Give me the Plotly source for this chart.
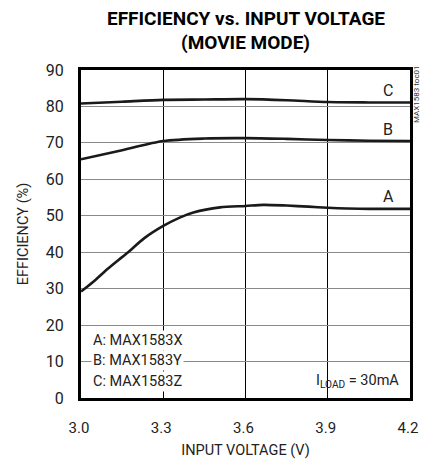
import plotly.graph_objects as go

# Data
vin_a = [3.0, 3.045, 3.10, 3.167, 3.23, 3.30, 3.36, 3.41, 3.507, 3.60, 3.665, 3.75, 3.83, 3.90, 3.97, 4.05, 4.2]
eff_a = [29.2, 31.9, 35.6, 39.7, 43.8, 47.2, 49.5, 50.9, 52.3, 52.7, 53.0, 52.8, 52.5, 52.2, 52.0, 51.9, 51.9]

vin_b = [3.0, 3.15, 3.30, 3.45, 3.60, 3.75, 3.90, 4.05, 4.2]
eff_b = [65.5, 68.0, 70.5, 71.2, 71.3, 71.1, 70.8, 70.6, 70.5]

vin_c = [3.0, 3.15, 3.30, 3.45, 3.60, 3.75, 3.90, 4.05, 4.2]
eff_c = [80.8, 81.3, 81.8, 81.9, 82.0, 81.7, 81.2, 81.1, 81.1]

x_ticks = [3.0, 3.3, 3.6, 3.9, 4.2]
x_tick_labels = ["3.0", "3.3", "3.6", "3.9", "4.2"]
y_ticks = [0, 10, 20, 30, 40, 50, 60, 70, 80, 90]

curve_labels = ["A", "B", "C"]
legend_lines = ["A: MAX1583X", "B: MAX1583Y", "C: MAX1583Z"]

FONT = "Roboto, Liberation Sans, sans-serif"

fig = go.Figure()
for xs, ys in [(vin_a, eff_a), (vin_b, eff_b), (vin_c, eff_c)]:
    fig.add_trace(go.Scatter(x=xs, y=ys, mode="lines",
                             line=dict(color="#1a1a1a", width=2.6, shape="spline", smoothing=0.8),
                             showlegend=False, hoverinfo="skip"))

# curve labels
for lab, yv in zip(curve_labels, [55.2, 73.8, 84.5]):
    fig.add_annotation(x=4.12, y=yv, xref="x", yref="y", text=lab, showarrow=False,
                       font=dict(family=FONT, size=16, color="#222"))

# legend text block
for txt, yv in zip(legend_lines, [15.9, 10.2, 4.4]):
    fig.add_annotation(x=0.03, y=yv, xref="paper", yref="y", text=txt, showarrow=False,
                       xanchor="left", yanchor="middle", bgcolor="white", borderpad=1,
                       font=dict(family=FONT, size=14.5, color="#222"))

fig.add_annotation(x=0.972, y=4.6, xref="paper", yref="y",
                   text="I<sub>LOAD</sub> = 30mA", showarrow=False,
                   xanchor="right", yanchor="middle",
                   font=dict(family=FONT, size=14.5, color="#222"))

fig.add_annotation(x=1.0, y=1.02, xref="paper", yref="paper", text="MAX1583 toc01",
                   showarrow=False, textangle=-90, xanchor="left", yanchor="top", xshift=0,
                   font=dict(family=FONT, size=8, color="#333"))

# title as annotations
fig.add_annotation(x=0.5, y=1.1585, xref="paper", yref="paper",
                   text="<b>EFFICIENCY vs. INPUT VOLTAGE</b>", showarrow=False,
                   xanchor="center", yanchor="middle",
                   font=dict(family=FONT, size=19, color="black"))
fig.add_annotation(x=0.5, y=1.085, xref="paper", yref="paper",
                   text="<b>(MOVIE MODE)</b>", showarrow=False,
                   xanchor="center", yanchor="middle",
                   font=dict(family=FONT, size=19, color="black"))

fig.update_layout(
    width=421, height=459,
    margin=dict(l=81, r=11, t=70, b=61),
    paper_bgcolor="white", plot_bgcolor="white",
    font=dict(family=FONT, color="#222"),
)
fig.update_xaxes(range=[3.0, 4.2], tickvals=x_ticks, ticktext=x_tick_labels,
                 showgrid=True, gridcolor="black", gridwidth=1,
                 showline=True, mirror=True, linecolor="black", linewidth=3,
                 ticks="", ticklabelstandoff=14, ticklabeloverflow="allow", ticklabelshift=-2,
                 tickfont=dict(family=FONT, size=15, color="#222"),
                 title=dict(text="INPUT VOLTAGE (V)", font=dict(family=FONT, size=14.5, color="#222"), standoff=10),
                 zeroline=False, automargin=False)
fig.update_yaxes(range=[0, 90], tickvals=y_ticks,
                 showgrid=True, gridcolor="#8a8a8a", gridwidth=1.3,
                 showline=True, mirror=True, linecolor="black", linewidth=3,
                 ticks="", ticklabelstandoff=11, ticklabeloverflow="allow",
                 tickfont=dict(family=FONT, size=16, color="#222"),
                 title=dict(text="EFFICIENCY (%)", font=dict(family=FONT, size=14.5, color="#222"), standoff=14),
                 zeroline=False, automargin=False)

# remove the page's default body margin so the 421x459 figure fills the window exactly
fig.write_html("out.html",
               config={"displayModeBar": False},
               post_script="document.body.style.margin='0';"
                           "document.documentElement.style.overflow='hidden';")
